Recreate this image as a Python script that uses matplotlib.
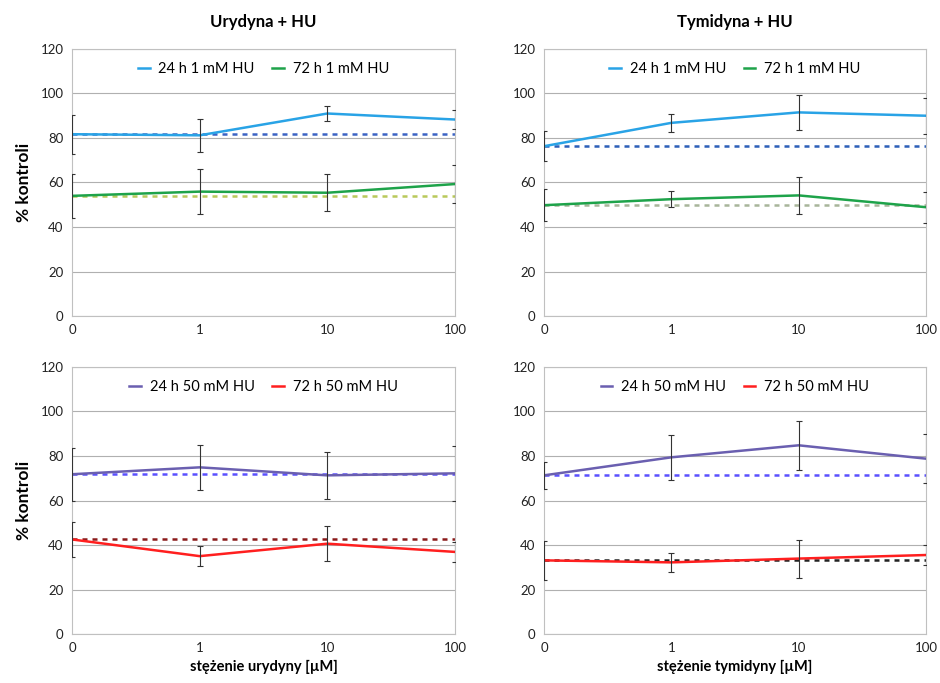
import matplotlib
matplotlib.use("Agg")
import matplotlib.pyplot as plt
import numpy as np

plt.rcParams['font.family'] = ['Lato', 'DejaVu Sans']

# x categories (log-like concentration, drawn at even spacing)
conc = ['0', '1', '10', '100']

# Urydyna + HU, 1 mM
ur_24_1 = [81.7, 81.2, 91.0, 88.3]
ur_24_1_err = [8.7, 7.3, 3.4, 4.3]
ur_72_1 = [54.0, 55.9, 55.4, 59.3]
ur_72_1_err = [10.0, 10.0, 8.3, 8.4]

# Tymidyna + HU, 1 mM
ty_24_1 = [76.3, 86.8, 91.5, 90.0]
ty_24_1_err = [6.8, 4.0, 8.0, 8.0]
ty_72_1 = [49.8, 52.5, 54.2, 48.9]
ty_72_1_err = [7.2, 3.7, 8.3, 7.0]

# Urydyna + HU, 50 mM
ur_24_50 = [71.8, 74.9, 71.3, 72.2]
ur_24_50_err = [12.0, 10.0, 10.6, 12.5]
ur_72_50 = [42.5, 35.0, 40.6, 36.9]
ur_72_50_err = [8.0, 4.5, 7.8, 4.4]

# Tymidyna + HU, 50 mM
ty_24_50 = [71.3, 79.4, 84.8, 78.8]
ty_24_50_err = [6.2, 10.0, 11.0, 11.0]
ty_72_50 = [33.1, 32.2, 33.9, 35.5]
ty_72_50_err = [8.6, 4.2, 8.5, 4.5]

fig = plt.figure(figsize=(9.4, 6.83), dpi=100)

panels = [
    # rect, series, labels, colors, control-line colors, title, xlabel, ylabel
    ([0.0766, 0.5373, 0.4074, 0.391],
     [(ur_24_1, ur_24_1_err), (ur_72_1, ur_72_1_err)],
     ['24 h 1 mM HU', '72 h 1 mM HU'],
     ['#29a3e6', '#1ea34a'], ['#3b63c4', '#b9c95a'],
     'Urydyna + HU', None, '% kontroli'),
    ([0.5787, 0.5373, 0.4064, 0.391],
     [(ty_24_1, ty_24_1_err), (ty_72_1, ty_72_1_err)],
     ['24 h 1 mM HU', '72 h 1 mM HU'],
     ['#29a3e6', '#1ea34a'], ['#2c5fb8', '#a8b59a'],
     'Tymidyna + HU', None, None),
    ([0.0766, 0.0717, 0.4074, 0.391],
     [(ur_24_50, ur_24_50_err), (ur_72_50, ur_72_50_err)],
     ['24 h 50 mM HU', '72 h 50 mM HU'],
     ['#6a5fb0', '#ff1f1f'], ['#5a50ff', '#8b1a1a'],
     None, 'stężenie urydyny [µM]', '% kontroli'),
    ([0.5787, 0.0717, 0.4064, 0.391],
     [(ty_24_50, ty_24_50_err), (ty_72_50, ty_72_50_err)],
     ['24 h 50 mM HU', '72 h 50 mM HU'],
     ['#6a5fb0', '#ff1f1f'], ['#5a50ff', '#222222'],
     None, 'stężenie tymidyny [µM]', None),
]

x = np.arange(len(conc))

for rect, series, labels, colors, ctrl_colors, title, xlabel, ylabel in panels:
    ax = fig.add_axes(rect)
    for (vals, errs), lab, col, ccol in zip(series, labels, colors, ctrl_colors):
        # dashed control level = value without nucleoside
        ax.axhline(vals[0], color=ccol, ls=(0, (2, 2)), lw=1.8, zorder=2)
        ax.plot(x, vals, color=col, lw=1.8, label=lab, zorder=3)
        ax.errorbar(x, vals, yerr=errs, fmt='none', ecolor='#333333',
                    elinewidth=0.8, capsize=2, capthick=0.8, zorder=4)
    ax.set_xlim(0, 3)
    ax.set_ylim(0, 120)
    ax.set_yticks(range(0, 121, 20))
    ax.set_xticks(x)
    ax.set_xticklabels(conc)
    ax.yaxis.grid(True, color='#b0b0b0', lw=0.8)
    ax.set_axisbelow(True)
    ax.tick_params(length=0, labelsize=9.5, colors='#222222', pad=6)
    for s in ax.spines.values():
        s.set_color('#c0c0c0')
        s.set_linewidth(0.8)
    ax.legend(loc='upper center', ncol=2, frameon=False, fontsize=10.5,
              handlelength=0.8, columnspacing=1.2, handletextpad=0.6,
              bbox_to_anchor=(0.5, 1.0))
    if title:
        ax.set_title(title, fontsize=12, fontweight='bold', pad=16)
    if xlabel:
        ax.set_xlabel(xlabel, fontsize=10.5, fontweight='bold', labelpad=4)
    if ylabel:
        ax.set_ylabel(ylabel, fontsize=12.5, fontweight='bold', labelpad=6)

fig.savefig('out.png', dpi=100)
